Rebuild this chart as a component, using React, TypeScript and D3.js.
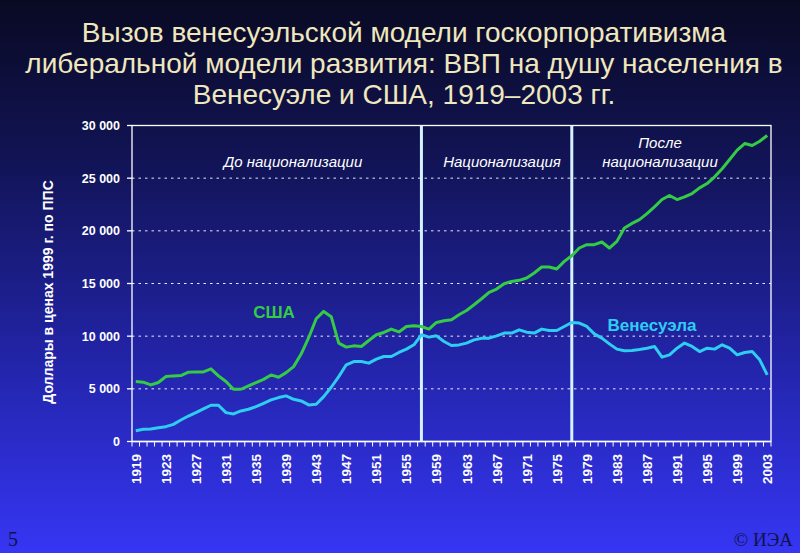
import React from "react";
import * as d3 from "d3";

const years: number[] = d3.range(1919, 2004);

const usa: number[] = [
  5690, 5630, 5370, 5600, 6160, 6230, 6260, 6580, 6610, 6610, // 1919-1928
  6900, 6230, 5690, 4960, 4960, 5280, 5600, 5900, 6320, 6100, // 1929-1938
  6540, 7110, 8300, 9850, 11650, 12350, 11850, 9340, 8960, 9080, // 1939-1948
  9020, 9590, 10130, 10350, 10670, 10400, 10920, 10980, 10920, 10670, // 1949-1958
  11300, 11460, 11560, 12030, 12440, 12980, 13550, 14150, 14470, 14980, // 1959-1968
  15200, 15300, 15520, 16000, 16570, 16570, 16380, 17100, 17640, 18370, // 1969-1978
  18690, 18690, 18940, 18370, 19000, 20270, 20700, 21060, 21630, 22270, // 1979-1988
  22970, 23350, 22970, 23220, 23540, 24080, 24490, 25130, 25890, 26770, // 1989-1998
  27660, 28290, 28100, 28510, 29050, // 1999-2003
];

const venezuela: number[] = [
  1030, 1160, 1190, 1310, 1410, 1630, 2040, 2420, 2740, 3090, // 1919-1928
  3440, 3440, 2740, 2620, 2900, 3060, 3310, 3630, 3950, 4170, // 1929-1938
  4330, 4010, 3850, 3470, 3530, 4260, 5150, 6160, 7280, 7590, // 1939-1948
  7590, 7440, 7820, 8070, 8070, 8450, 8770, 9180, 10130, 9910, // 1949-1958
  10030, 9490, 9110, 9170, 9340, 9650, 9810, 9810, 10030, 10290, // 1959-1968
  10290, 10600, 10380, 10290, 10670, 10540, 10540, 10920, 11300, 11240, // 1969-1978
  10920, 10220, 9810, 9270, 8770, 8610, 8650, 8740, 8860, 9020, // 1979-1988
  8010, 8230, 8860, 9340, 9020, 8540, 8860, 8770, 9180, 8860, // 1989-1998
  8230, 8450, 8540, 7750, 6320, // 1999-2003
];

const yTicks: number[] = [0, 5000, 10000, 15000, 20000, 25000, 30000];
const xLabelYears: number[] = d3.range(1919, 2004, 4);
const dividerYears: number[] = [1957, 1977];

const titleLines: string[] = [
  "Вызов венесуэльской модели госкорпоративизма",
  "либеральной модели развития: ВВП на душу населения в",
  "Венесуэле и США, 1919–2003 гг.",
];

export default function App() {
  const W = 800;
  const H = 553;
  const left = 132;
  const right = 771;
  const top = 125.5;
  const bottom = 441.5;

  const x = d3.scaleBand<number>().domain(years).range([left, right]).paddingInner(0).paddingOuter(0);
  const bw = x.bandwidth();
  const cx = (yr: number) => (x(yr) as number) + bw / 2;
  const y = d3.scaleLinear().domain([0, 30000]).range([bottom, top]);

  const line = d3
    .line<number>()
    .x((_, i) => cx(years[i]))
    .y((d) => y(d))
    .curve(d3.curveLinear);

  const fmt = (v: number) => (v === 0 ? "0" : d3.format(",")(v).replace(/,/g, " "));

  const font = "Liberation Sans, Arial, sans-serif";

  const boundaries = years.map((yr) => x(yr) as number).concat([right]);

  return (
    <div style={{ position: "fixed", left: 0, top: 0, width: W, height: H }}>
      <svg width={W} height={H} viewBox={`0 0 ${W} ${H}`} style={{ display: "block" }}>
        <defs>
          <linearGradient id="bg" x1="0" y1="0" x2="0" y2="1">
            <stop offset="0" stopColor="#090a22" />
            <stop offset="0.3" stopColor="#121458" />
            <stop offset="0.65" stopColor="#2224a8" />
            <stop offset="1" stopColor="#3636f4" />
          </linearGradient>
        </defs>
        <rect x={0} y={0} width={W} height={H} fill="url(#bg)" />

        {/* Title */}
        {titleLines.map((t, i) => (
          <text
            key={i}
            x={404}
            y={42 + i * 31}
            textAnchor="middle"
            fill="#efe7bd"
            fontFamily={font}
            fontSize={28}
          >
            {t}
          </text>
        ))}

        {/* gridlines */}
        {yTicks
          .filter((v) => v > 0 && v < 30000)
          .map((v) => (
            <line
              key={v}
              x1={left}
              x2={right}
              y1={y(v)}
              y2={y(v)}
              stroke="#ffffff"
              strokeWidth={1}
              strokeDasharray="2.5 4"
              opacity={0.9}
            />
          ))}

        {/* frame */}
        <rect x={left} y={top} width={right - left} height={bottom - top} fill="none" stroke="#ffffff" strokeWidth={1.3} />

        {/* y ticks & labels */}
        {yTicks.map((v) => (
          <g key={v}>
            <line x1={left - 5} x2={left} y1={y(v)} y2={y(v)} stroke="#ffffff" strokeWidth={1.3} />
            <text
              x={120}
              y={y(v)}
              dy="0.35em"
              textAnchor="end"
              fill="#ffffff"
              fontFamily={font}
              fontWeight="bold"
              fontSize={12.5}
            >
              {fmt(v)}
            </text>
          </g>
        ))}

        {/* x axis */}
        <line x1={left} x2={right} y1={bottom} y2={bottom} stroke="#ffffff" strokeWidth={1.5} />
        {boundaries.map((bx, i) => (
          <line key={i} x1={bx} x2={bx} y1={bottom} y2={bottom + 5} stroke="#ffffff" strokeWidth={1} />
        ))}
        {xLabelYears.map((yr) => (
          <text
            key={yr}
            transform={`translate(${cx(yr) + 5},${454}) rotate(-90)`}
            textAnchor="end"
            fill="#ffffff"
            fontFamily={font}
            fontWeight="bold"
            fontSize={13.5}
          >
            {yr}
          </text>
        ))}

        {/* y axis title */}
        <text
          transform={`translate(${53},${292}) rotate(-90)`}
          textAnchor="middle"
          fill="#ffffff"
          fontFamily={font}
          fontWeight="bold"
          fontSize={14}
        >
          Доллары в ценах 1999 г. по ППС
        </text>

        {/* dividers */}
        {dividerYears.map((yr) => (
          <line key={yr} x1={cx(yr)} x2={cx(yr)} y1={top} y2={bottom} stroke="#d4f2ff" strokeWidth={3} />
        ))}

        {/* period annotations */}
        <g fill="#ffffff" fontFamily={font} fontStyle="italic" fontSize={15} textAnchor="middle">
          <text x={293} y={167}>До национализации</text>
          <text x={502} y={167}>Национализация</text>
          <text x={660} y={148}>После</text>
          <text x={660} y={167}>национализации</text>
        </g>

        {/* series */}
        <path d={line(venezuela) || ""} fill="none" stroke="#2fcdf2" strokeWidth={3} strokeLinejoin="round" />
        <path d={line(usa) || ""} fill="none" stroke="#34cc44" strokeWidth={3} strokeLinejoin="round" />

        {/* series labels */}
        <text x={274} y={318} textAnchor="middle" fill="#34cc44" fontFamily={font} fontWeight="bold" fontSize={17}>
          США
        </text>
        <text x={652} y={331} textAnchor="middle" fill="#2fcdf2" fontFamily={font} fontWeight="bold" fontSize={17}>
          Венесуэла
        </text>

        {/* footer */}
        <text x={8} y={546} fill="#10124a" fontFamily="Liberation Serif, Times New Roman, serif" fontSize={20}>
          5
        </text>
        <text x={793} y={546} textAnchor="end" fill="#10124a" fontFamily="Liberation Serif, Times New Roman, serif" fontSize={19}>
          © ИЭА
        </text>
      </svg>
    </div>
  );
}
